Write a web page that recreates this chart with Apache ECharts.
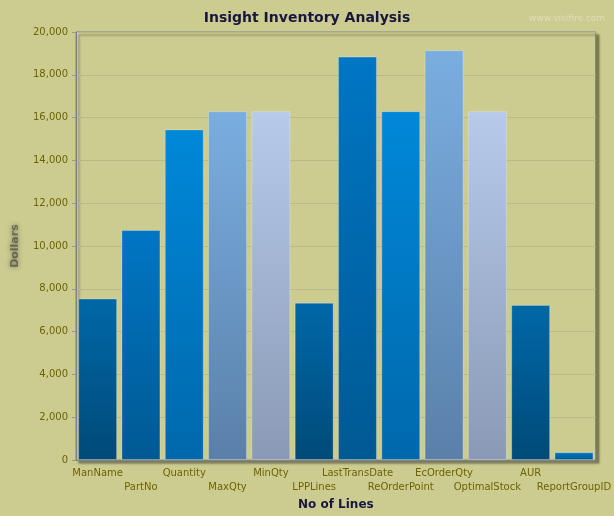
<!DOCTYPE html>
<html>
<head>
<meta charset="utf-8">
<style>
  html, body { margin: 0; padding: 0; background: #cccc91; }
  #chart { width: 614px; height: 516px; }
</style>
<script src="https://cdn.jsdelivr.net/npm/echarts@6/dist/echarts.min.js"></script>
</head>
<body>
<div id="chart"></div>
<script>
// categories and values
var categories = ['ManName', 'PartNo', 'Quantity', 'MaxQty', 'MinQty', 'LPPLines',
  'LastTransDate', 'ReOrderPoint', 'EcOrderQty', 'OptimalStock', 'AUR', 'ReportGroupID']
var values = [7550, 10750, 15450, 16300, 16300, 7350, 18850, 16300, 19150, 16300, 7250, 370]
var yTicks = [0, 2000, 4000, 6000, 8000, 10000, 12000, 14000, 16000, 18000, 20000]

// palette cycles every 5 bars: [top, bottom]
var palette = [
  ['#0068a8', '#004a78'],
  ['#0076c4', '#005993'],
  ['#0088d9', '#0068ac'],
  ['#7aaee0', '#5a80aa'],
  ['#b6caea', '#8a9ab6']
]

function grad (c) {
  return new echarts.graphic.LinearGradient(0, 0, 0, 1, [
    { offset: 0, color: c[0] },
    { offset: 1, color: c[1] }
  ])
}

var barData = values.map(function (v, i) {
  var c = palette[i % palette.length]
  return {
    value: v,
    itemStyle: { color: grad(c), borderColor: 'rgba(255,255,255,0.25)', borderWidth: 1 }
  }
})

var myChart = echarts.init(document.getElementById('chart'))
myChart.setOption({
  backgroundColor: '#cccc91',
  animation: false,
  title: [{
    text: 'Insight Inventory Analysis',
    left: 'center',
    top: 6,
    textStyle: { fontFamily: 'DejaVu Sans', fontSize: 14, fontWeight: 'bold', color: '#17173f' }
  }, {
    text: 'www.visifire.com',
    right: 4,
    top: 9,
    textStyle: { fontFamily: 'DejaVu Sans', fontSize: 9, fontWeight: 'normal', color: 'rgba(255,255,255,0.35)' }
  }],
  grid: {
    left: 76,
    right: 16,
    top: 32,
    bottom: 55,
    show: true,
    backgroundColor: '#cccc91',
    borderColor: '#7d828d',
    borderWidth: 1,
    shadowColor: 'rgba(60,60,40,0.55)',
    shadowBlur: 2,
    shadowOffsetX: 3,
    shadowOffsetY: 3
  },
  xAxis: {
    type: 'category',
    data: categories,
    name: 'No of Lines',
    nameLocation: 'middle',
    nameGap: 37,
    nameTextStyle: { fontFamily: 'DejaVu Sans', fontSize: 12, fontWeight: 'bold', color: '#17173f' },
    axisLine: { lineStyle: { color: '#7d828d' } },
    axisTick: { alignWithLabel: true, length: 5, lineStyle: { color: '#9a9a80' } },
    axisLabel: {
      interval: 0,
      margin: 6,
      fontFamily: 'DejaVu Sans',
      fontSize: 10,
      lineHeight: 14,
      color: '#6e6300',
      formatter: function (value, index) {
        return index % 2 ? '\n' + value : value
      }
    }
  },
  yAxis: {
    type: 'value',
    min: 0,
    max: 20000,
    interval: 2000,
    name: 'Dollars',
    nameLocation: 'middle',
    nameGap: 55,
    nameRotate: 90,
    nameTextStyle: {
      fontFamily: 'DejaVu Sans',
      fontSize: 11,
      fontWeight: 'bold',
      color: 'rgba(60,60,60,0.6)',
      textShadowColor: 'rgba(30,30,30,0.9)',
      textShadowBlur: 5
    },
    axisLine: { show: true, lineStyle: { color: '#7d828d' } },
    axisTick: { show: true, length: 4, lineStyle: { color: '#9a9a80' } },
    axisLabel: {
      fontFamily: 'DejaVu Sans',
      fontSize: 10,
      margin: 8,
      color: '#6e6300',
      formatter: function (v) {
        return yTicks.indexOf(v) >= 0 ? v.toLocaleString('en-US') : ''
      }
    },
    splitLine: { show: true, lineStyle: { color: '#b9b98a' } }
  },
  series: [{
    type: 'bar',
    data: barData,
    barCategoryGap: '10%'
  }]
})
</script>
</body>
</html>
